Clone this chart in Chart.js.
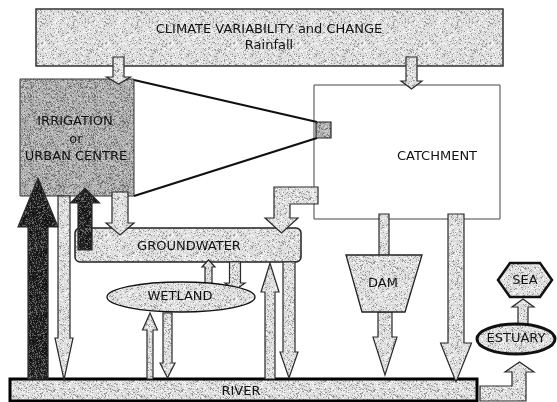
<!DOCTYPE html>
<html>
<head>
<meta charset="utf-8">
<script src="https://cdn.jsdelivr.net/npm/chart.js@4.4.0/dist/chart.umd.min.js"></script>
<style>
  html, body { margin: 0; padding: 0; background: #fff; }
  #wrap { width: 557px; height: 402px; }
</style>
</head>
<body>
<div id="wrap"><canvas id="diagram"></canvas></div>
<script>
// diagram units: 557 wide, 402 high, y counted downwards

// text labels and where they sit
var labelText = ['CLIMATE VARIABILITY and CHANGE', 'Rainfall', 'IRRIGATION', 'or', 'URBAN CENTRE',
                 'CATCHMENT', 'GROUNDWATER', 'WETLAND', 'DAM', 'RIVER', 'ESTUARY', 'SEA'];
var labelX = [269, 269, 75, 76, 76, 437, 189, 180, 383, 241, 516, 525];
var labelY = [30, 46, 122, 140, 157, 157, 247, 297, 284, 392, 339, 281];

// boxes: [x0, y0, x1, y1, fill, radius]
var boxes = [
  [36, 9, 503, 66, 'light', 0],      // climate
  [20, 79, 134, 196, 'mid', 0],      // irrigation
  [314, 85, 500, 219, 'white', 0]    // catchment
];
var groundwater = [75, 228, 301, 262];
var river = [10, 379, 477, 401];
var smallSquare = [316, 122, 331, 138];

// straight arrows: [x, tail, tip, shaftWidth, headWidth, headLength, fill]
var arrows = [
  [118.5, 57, 84, 11, 24, 7, 'light'],
  [411.5, 57, 89, 11, 21, 8, 'light'],
  [64, 196, 380, 12, 18, 42, 'light'],
  [384, 214, 256, 10, 10, 0, 'light'],
  [385, 312, 375, 14, 24, 38, 'light'],
  [456, 214, 382, 16, 31, 39, 'light'],
  [208.5, 285, 260, 7, 13, 7, 'light'],
  [235, 262, 290, 11, 20, 7, 'light'],
  [150, 379, 313, 6, 15, 17, 'light'],
  [167.5, 313, 378, 9, 15, 15, 'light'],
  [270, 379, 263, 10, 18, 29, 'light'],
  [289, 262, 378, 12, 18, 26, 'light'],
  [523, 324, 299, 10, 22, 8, 'light']
];
var arrowsOnTop = [
  [120, 192, 235, 16, 28, 12, 'light'],
  [38, 379, 178, 20, 40, 49, 'dark'],
  [85, 250, 188, 14, 29, 15, 'dark']
];

// bent arrows as outlines
var bentCatchment = [[318,187],[274,187],[274,218],[265,218],[281.5,233],[298,218],[290,218],[290,204],[318,204]];
var bentEstuary = [[480,386],[512,386],[512,372],[505,372],[519.5,362],[534,372],[526,372],[526,401],[480,401]];
var dam = [[346,255],[422,255],[405,312],[362,312]];
var sea = [[498,280],[510,263],[540,263],[552,280],[540,297],[510,297]];
var wetland = [181, 297, 74, 15];
var estuary = [516, 339, 39, 15];
var funnelLines = [[[134,80],[317,122]], [[134,196],[317,138]]];

function stipple(ctx, base, speck, light, seed, density) {
  var c = document.createElement('canvas');
  c.width = 64; c.height = 64;
  var g = c.getContext('2d');
  g.fillStyle = base;
  g.fillRect(0, 0, 64, 64);
  var s = seed;
  for (var i = 0; i < 64 * 64; i++) {
    s = (s * 1103515245 + 12345) & 0x7fffffff;
    var r = (s >> 8) % 100;
    if (r < density) { g.fillStyle = speck; g.fillRect(i % 64, Math.floor(i / 64), 1, 1); }
    else if (r > 75) { g.fillStyle = light; g.fillRect(i % 64, Math.floor(i / 64), 1, 1); }
  }
  return ctx.createPattern(c, 'repeat');
}

var diagramPlugin = {
  id: 'diagram',
  afterDatasetsDraw: function(chart) {
    var ctx = chart.ctx;
    var xs = chart.scales.x, ys = chart.scales.y;
    function px(v) { return xs.getPixelForValue(v); }
    function py(v) { return ys.getPixelForValue(v); }
    var fills = {
      light: stipple(ctx, '#dadada', '#9a9a9a', '#f6f6f6', 7, 13),
      mid: stipple(ctx, '#a9a9a9', '#707070', '#cccccc', 11, 18),
      dark: stipple(ctx, '#252525', '#0e0e0e', '#666', 3, 25),
      white: '#fff'
    };

    function poly(pts, fill, stroke, lw) {
      ctx.beginPath();
      pts.forEach(function(p, i) {
        if (i === 0) ctx.moveTo(px(p[0]), py(p[1])); else ctx.lineTo(px(p[0]), py(p[1]));
      });
      ctx.closePath();
      ctx.fillStyle = fill;
      ctx.fill();
      ctx.lineWidth = lw;
      ctx.strokeStyle = stroke;
      ctx.stroke();
    }
    function arrow(a) {
      var x = a[0], tail = a[1], tip = a[2], sw = a[3] / 2, hw = a[4] / 2, hl = a[5];
      var dir = tip > tail ? 1 : -1;
      var base = tip - dir * hl;
      var pts;
      if (hl === 0) pts = [[x - sw, tail], [x - sw, tip], [x + sw, tip], [x + sw, tail]];
      else pts = [[x - sw, tail], [x - sw, base], [x - hw, base], [x, tip], [x + hw, base], [x + sw, base], [x + sw, tail]];
      poly(pts, fills[a[6]], '#2a2a2a', 1.2);
    }
    function rect(b, fill, stroke, lw, rad) {
      var x0 = px(b[0]), y0 = py(b[1]), x1 = px(b[2]), y1 = py(b[3]);
      ctx.beginPath();
      if (ctx.roundRect && rad) ctx.roundRect(x0, y0, x1 - x0, y1 - y0, rad);
      else ctx.rect(x0, y0, x1 - x0, y1 - y0);
      ctx.fillStyle = fill;
      ctx.fill();
      ctx.lineWidth = lw;
      ctx.strokeStyle = stroke;
      ctx.stroke();
    }
    function ellipse(e, fill, lw) {
      ctx.beginPath();
      ctx.ellipse(px(e[0]), py(e[1]), Math.abs(px(e[2]) - px(0)), Math.abs(py(e[3]) - py(0)), 0, 0, Math.PI * 2);
      ctx.fillStyle = fill;
      ctx.fill();
      ctx.lineWidth = lw;
      ctx.strokeStyle = '#111';
      ctx.stroke();
    }

    ctx.save();
    ctx.lineJoin = 'miter';
    // boxes
    rect(boxes[0], fills.light, '#333', 1.5, 0);
    rect(boxes[2], fills.white, '#444', 1, 0);
    rect(boxes[1], fills.mid, '#333', 1, 0);
    // funnel lines and small square
    ctx.lineWidth = 2.2;
    ctx.strokeStyle = '#111';
    funnelLines.forEach(function(l) {
      ctx.beginPath();
      ctx.moveTo(px(l[0][0]), py(l[0][1]));
      ctx.lineTo(px(l[1][0]), py(l[1][1]));
      ctx.stroke();
    });
    rect(smallSquare, fills.mid, '#222', 1.2, 0);

    rect(groundwater, fills.light, '#222', 1.5, 5);
    rect(river, fills.light, '#000', 3, 0);

    arrows.forEach(arrow);
    poly(dam, fills.light, '#222', 1.3);
    ellipse(wetland, fills.light, 1.3);
    poly(bentCatchment, fills.light, '#2a2a2a', 1.2);
    poly(bentEstuary, fills.light, '#2a2a2a', 1.2);
    arrowsOnTop.forEach(arrow);
    ellipse(estuary, fills.light, 3);
    poly(sea, fills.light, '#111', 2.5);

    // labels
    ctx.fillStyle = '#111';
    ctx.font = '13px "DejaVu Sans"';
    ctx.textAlign = 'center';
    ctx.textBaseline = 'middle';
    labelText.forEach(function(t, i) {
      ctx.fillText(t, px(labelX[i]), py(labelY[i]));
    });
    ctx.restore();
  }
};

new Chart(document.getElementById('diagram'), {
  type: 'scatter',
  data: {
    datasets: [{
      label: 'labels',
      data: labelX.map(function(x, i) { return { x: x, y: labelY[i] }; }),
      pointRadius: 0
    }]
  },
  options: {
    responsive: true,
    maintainAspectRatio: false,
    animation: false,
    layout: { padding: 0 },
    plugins: { legend: { display: false }, tooltip: { enabled: false } },
    scales: {
      x: { type: 'linear', min: 0, max: 557, display: false },
      y: { type: 'linear', min: 0, max: 402, reverse: true, display: false }
    }
  },
  plugins: [diagramPlugin]
});
</script>
</body>
</html>
